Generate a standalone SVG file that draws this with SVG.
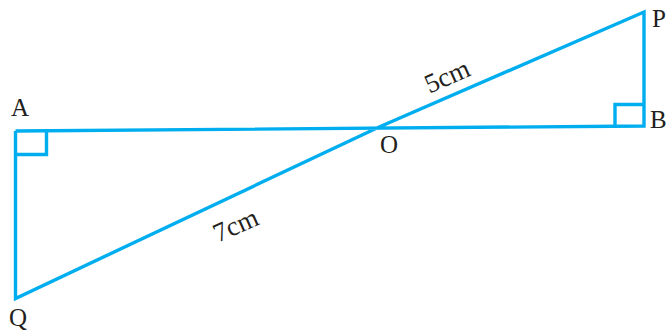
<svg xmlns="http://www.w3.org/2000/svg" width="670" height="333" viewBox="0 0 670 333">
<style>
.ln{fill:none;stroke:#00AEEF;stroke-width:3.4;stroke-linejoin:miter;stroke-linecap:butt}
.lb{font-family:"Liberation Serif","Times New Roman",serif;font-size:25px;fill:#231F20}
.dim{font-size:27px}
</style>
<rect width="670" height="333" fill="#ffffff"/>
<g id="figure">
<polyline class="ln" points="15.5,131 15.5,298.5 378,127.5 644,12 644,126 15.5,131"/>
<polyline id="rightangle-A" class="ln" points="15.5,154.5 46.5,154.5 46.5,131"/>
<polyline id="rightangle-B" class="ln" points="615,126 615,104.5 644,104.5"/>
</g>
<g id="labels">
<text class="lb" x="11" y="116">A</text>
<text class="lb" x="652" y="27">P</text>
<text class="lb" x="650" y="128">B</text>
<text class="lb" x="380" y="153">O</text>
<text class="lb" x="9" y="326">Q</text>
<text class="lb dim" text-anchor="middle" transform="translate(447.5,77) rotate(-24)" x="0" y="8">5cm</text>
<text class="lb dim" text-anchor="middle" transform="translate(236,226) rotate(-24)" x="0" y="8">7cm</text>
</g>
</svg>
